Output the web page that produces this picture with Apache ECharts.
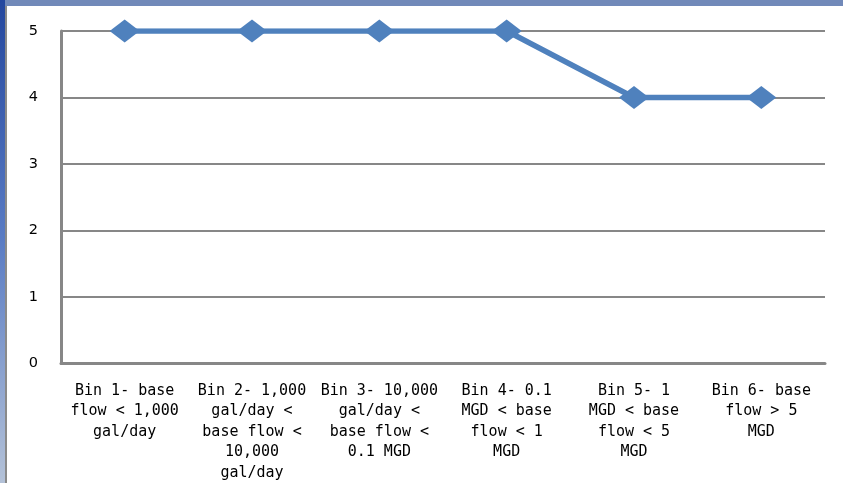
<!DOCTYPE html>
<html>
<head>
<meta charset="utf-8">
<script src="https://cdn.jsdelivr.net/npm/echarts@6/dist/echarts.min.js"></script>
<style>
  html, body { margin: 0; padding: 0; background: #ffffff; }
  #chart { width: 843px; height: 483px; }
</style>
</head>
<body>
<div id="chart"></div>
<script>
// Flow bins along the x axis
const categories = [
  'Bin 1- base\nflow < 1,000\ngal/day',
  'Bin 2- 1,000\ngal/day <\nbase flow <\n10,000\ngal/day',
  'Bin 3- 10,000\ngal/day <\nbase flow <\n0.1 MGD',
  'Bin 4- 0.1\nMGD < base\nflow < 1\nMGD',
  'Bin 5- 1\nMGD < base\nflow < 5\nMGD',
  'Bin 6- base\nflow > 5\nMGD'
];
// Score for each bin
const scores = [5, 5, 5, 5, 4, 4];
// Value axis range
const yMin = 0;
const yMax = 5;
const yStep = 1;

const chart = echarts.init(document.getElementById('chart'), null, { renderer: 'canvas' });
const labelFont = '"DejaVu Sans Mono", monospace';
const tickFont = '"DejaVu Sans", Verdana, sans-serif';

chart.setOption({
  animation: false,
  backgroundColor: '#ffffff',
  grid: { left: 61, right: 18, top: 31, bottom: 118, containLabel: false },
  graphic: [
    // slide frame: top band
    { type: 'rect', left: 0, top: 0, shape: { width: 843, height: 6 },
      style: { fill: '#7189b9' }, z: 10 },
    // slide frame: left band with gradient
    { type: 'rect', left: 0, top: 0, shape: { width: 5, height: 483 },
      style: { fill: new echarts.graphic.LinearGradient(0, 0, 0, 1, [
        { offset: 0, color: '#24479e' },
        { offset: 0.5, color: '#5a7cc4' },
        { offset: 1, color: '#b4c2d8' }
      ]) }, z: 11 },
    { type: 'rect', left: 5, top: 6, shape: { width: 2, height: 477 },
      style: { fill: '#8a8a8a' }, z: 11 }
  ],
  xAxis: {
    type: 'category',
    data: categories,
    boundaryGap: true,
    axisLine: { show: true, lineStyle: { color: '#878787', width: 3 } },
    axisTick: { show: false },
    axisLabel: {
      interval: 0,
      margin: 17,
      color: '#000000',
      fontFamily: labelFont,
      fontSize: 15,
      lineHeight: 20.5,
      align: 'center'
    },
    splitLine: { show: false }
  },
  yAxis: {
    type: 'value',
    min: yMin,
    max: yMax,
    interval: yStep,
    axisLine: { show: true, lineStyle: { color: '#878787', width: 3 } },
    axisTick: { show: false },
    axisLabel: {
      margin: 23,
      color: '#000000',
      fontFamily: tickFont,
      fontSize: 14.5
    },
    splitLine: { show: true, lineStyle: { color: '#878787', width: 2 } }
  },
  series: [{
    type: 'line',
    data: scores,
    symbol: 'diamond',
    symbolSize: [30, 23],
    lineStyle: { color: '#4f81bd', width: 5.5 },
    itemStyle: { color: '#4f81bd', borderWidth: 0 },
    z: 5
  }]
});
</script>
</body>
</html>
